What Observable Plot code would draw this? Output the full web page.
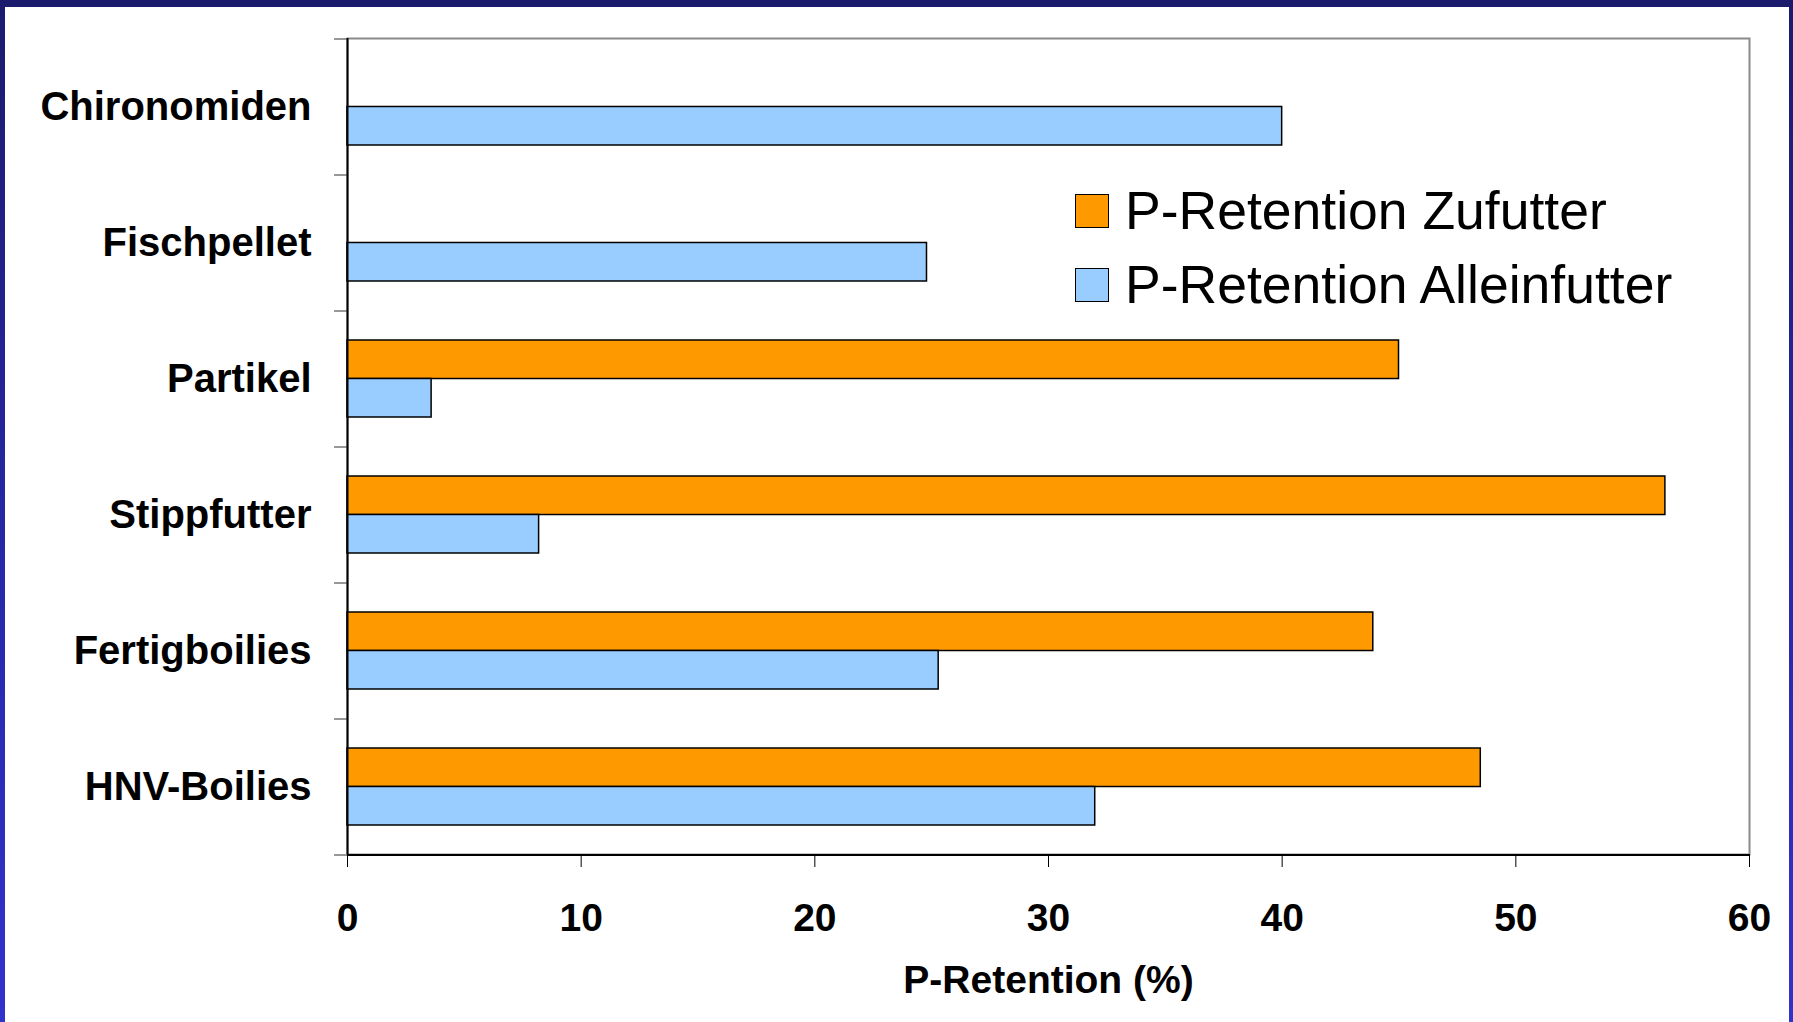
<!DOCTYPE html>
<html>
<head>
<meta charset="utf-8">
<script src="https://cdn.jsdelivr.net/npm/d3@7"></script>
<script src="https://cdn.jsdelivr.net/npm/@observablehq/plot@0.6"></script>
<style>
  html, body { margin: 0; padding: 0; background: #fff; }
  #page {
    position: relative; width: 1793px; height: 1022px; overflow: hidden;
    background: linear-gradient(to bottom, #1b1b6d 0%, #2828a8 55%, #3232cc 100%);
  }
  #sheet { position: absolute; left: 5px; top: 7px; right: 4px; bottom: 0; background: #fff; }
  #chart { position: absolute; left: 0; top: 0; }
  #legend { position: absolute; left: 1075px; top: 188px; font-family: "Liberation Sans", Arial, sans-serif; }
  .row { display: flex; align-items: center; height: 46px; margin-bottom: 28px; }
  .sw { width: 34px; height: 34px; border: 1.5px solid #000; margin-right: 16px; box-sizing: border-box; }
  .lab { font-size: 53.5px; color: #000; line-height: 1; }
</style>
</head>
<body>
<div id="page">
  <div id="sheet"></div>
  <div id="chart"></div>
  <div id="legend"></div>
</div>
<script>
// Feed types, top to bottom
const categories = ["Chironomiden", "Fischpellet", "Partikel", "Stippfutter", "Fertigboilies", "HNV-Boilies"];
// P retention (%) as supplementary feed (no value for the first two)
const zufutter = [null, null, 45.0, 56.4, 43.9, 48.5];
// P retention (%) as sole feed
const alleinfutter = [40.0, 24.8, 3.6, 8.2, 25.3, 32.0];
const seriesNames = ["P-Retention Zufutter", "P-Retention Alleinfutter"];
const seriesColors = ["#FF9900", "#99CCFF"];
const xTicks = [0, 10, 20, 30, 40, 50, 60];

const W = 1793, H = 1022;
const mL = 347, mR = 44, mT = 38, mB = 168;
const padInner = 0.434;
const step = (H - mT - mB) / categories.length;
const half = step * (1 - padInner) / 2;

const rowsZ = categories.map((c, i) => ({category: c, value: zufutter[i]})).filter(d => d.value != null);
const rowsA = categories.map((c, i) => ({category: c, value: alleinfutter[i]})).filter(d => d.value != null);
const last = categories[categories.length - 1];

const chart = Plot.plot({
  width: W, height: H,
  marginLeft: mL, marginRight: mR, marginTop: mT, marginBottom: mB,
  style: {background: "transparent", fontFamily: "'Liberation Sans', Arial, sans-serif", color: "#000"},
  x: {domain: [0, 60], axis: null},
  y: {domain: categories, paddingInner: padInner, paddingOuter: padInner / 2, axis: null},
  marks: [
    Plot.frame({stroke: "#8a8a8a", strokeWidth: 2}),
    Plot.barX(rowsZ, {x: "value", y: "category", insetBottom: half, fill: seriesColors[0], stroke: "#000", strokeWidth: 1.5}),
    Plot.barX(rowsA, {x: "value", y: "category", insetTop: half, fill: seriesColors[1], stroke: "#000", strokeWidth: 1.5}),
    Plot.ruleX([0], {stroke: "#000", strokeWidth: 2}),
    Plot.ruleY([last], {dy: step / 2, stroke: "#000", strokeWidth: 2}),
    // category boundary ticks
    Plot.axisY({ticks: categories, tickFormat: () => "", tickSize: 13, dy: -step / 2, color: "#333", label: null}),
    Plot.axisY({ticks: [last], tickFormat: () => "", tickSize: 13, dy: step / 2, color: "#333", label: null}),
    // category labels
    Plot.axisY({tickSize: 0, tickPadding: 36, fontSize: 40, fontWeight: "bold", color: "#000", label: null}),
    Plot.axisX({ticks: xTicks, tickSize: 13, tickPadding: 36, tickFormat: d3.format("d"), fontSize: 39, fontWeight: "bold", color: "#000", label: null}),
    Plot.text(["P-Retention (%)"], {frameAnchor: "bottom", dy: 126, fontSize: 39, fontWeight: "bold", fill: "#000", lineAnchor: "middle"})
  ]
});
document.getElementById("chart").append(chart);

const legend = d3.select("#legend");
seriesNames.forEach((name, i) => {
  const row = legend.append("div").attr("class", "row");
  row.append("div").attr("class", "sw").style("background", seriesColors[i]);
  row.append("div").attr("class", "lab").text(name);
});
</script>
</body>
</html>
